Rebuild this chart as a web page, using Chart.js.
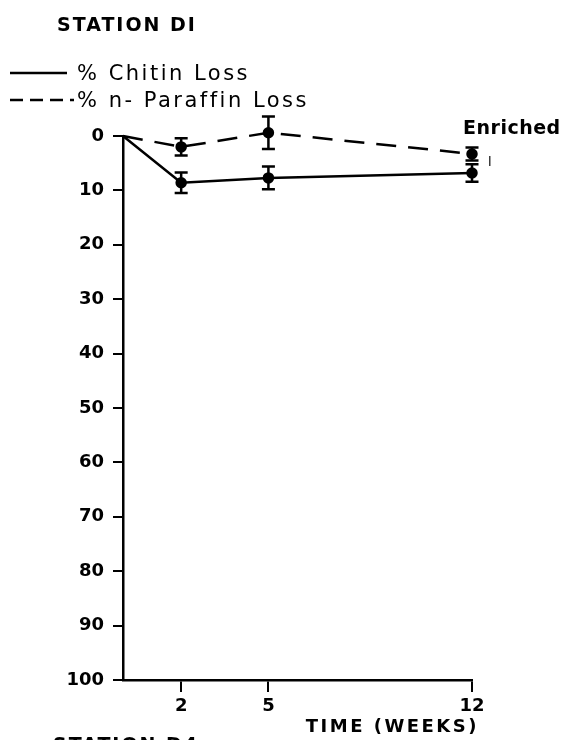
<!DOCTYPE html>
<html>
<head>
<meta charset="utf-8">
<script src="https://cdn.jsdelivr.net/npm/chart.js@4"></script>
<style>
  html, body { margin: 0; padding: 0; background: #fff; }
  #wrap { width: 573px; height: 740px; position: relative; }
</style>
</head>
<body>
<div id="wrap"><canvas id="lossChart"></canvas></div>
<script>
// sampling times (weeks) and mean % losses with +/- error
const weeks = [0, 2, 5, 12];
const xTickWeeks = [2, 5, 12];
const yTickValues = [0, 10, 20, 30, 40, 50, 60, 70, 80, 90, 100];

const chitinLoss = [0, 8.6, 7.7, 6.8];
const chitinErr = [0, 1.9, 2.1, 1.6];
const paraffinLoss = [0, 2.0, -0.6, 3.3];
const paraffinErr = [0, 1.6, 3.0, 1.2];

const FONT = "DejaVu Sans";
Chart.defaults.font.family = FONT;
Chart.defaults.color = "#000";

function toPoints(vals) {
  return weeks.map((w, i) => ({ x: w, y: vals[i] }));
}

// vertical error bars with caps
const errorBars = {
  id: "errorBars",
  afterDatasetsDraw(chart) {
    const { ctx } = chart;
    const x = chart.scales.x;
    const y = chart.scales.y;
    ctx.save();
    ctx.strokeStyle = "#000";
    ctx.lineWidth = 2.5;
    [[chitinLoss, chitinErr], [paraffinLoss, paraffinErr]].forEach(([vals, errs]) => {
      vals.forEach((v, i) => {
        if (!errs[i]) return;
        const px = x.getPixelForValue(weeks[i]);
        const top = y.getPixelForValue(v - errs[i]);
        const bot = y.getPixelForValue(v + errs[i]);
        ctx.beginPath();
        ctx.moveTo(px, top);
        ctx.lineTo(px, bot);
        ctx.moveTo(px - 6.5, top);
        ctx.lineTo(px + 6.5, top);
        ctx.moveTo(px - 6.5, bot);
        ctx.lineTo(px + 6.5, bot);
        ctx.stroke();
      });
    });
    ctx.restore();
  }
};

// station title, hand-drawn style key, notes and axis title
const labels = {
  id: "labels",
  afterDraw(chart) {
    const { ctx } = chart;
    const x = chart.scales.x;
    const y = chart.scales.y;
    ctx.save();
    ctx.fillStyle = "#000";
    ctx.strokeStyle = "#000";
    ctx.textBaseline = "alphabetic";

    ctx.font = "bold 19px " + FONT;
    ctx.letterSpacing = "2px";
    ctx.textAlign = "left";
    ctx.fillText("STATION DI", 57, 31);
    ctx.fillText("STATION D4", 53, 751);

    // key
    ctx.lineWidth = 2.5;
    ctx.beginPath();
    ctx.moveTo(10, 73);
    ctx.lineTo(67, 73);
    ctx.stroke();
    ctx.setLineDash([13, 7]);
    ctx.beginPath();
    ctx.moveTo(10, 100);
    ctx.lineTo(74, 100);
    ctx.stroke();
    ctx.setLineDash([]);

    ctx.font = "21px " + FONT;
    ctx.letterSpacing = "2.5px";
    ctx.fillText("% Chitin Loss", 77, 80);
    ctx.fillText("% n- Paraffin Loss", 77, 107);

    // treatment note at the last sample
    ctx.font = "bold 19px " + FONT;
    ctx.letterSpacing = "0.5px";
    ctx.fillText("Enriched", x.getPixelForValue(12) - 9, 134);
    ctx.font = "13px " + FONT;
    ctx.letterSpacing = "0px";
    ctx.fillText("l", x.getPixelForValue(12) + 16, y.getPixelForValue(5.6));

    // x axis title, right aligned to the end of the axis
    ctx.font = "bold 18px " + FONT;
    ctx.letterSpacing = "2.5px";
    ctx.textAlign = "right";
    ctx.fillText("TIME (WEEKS)", x.right + 7, 732);
    ctx.restore();
  }
};

new Chart(document.getElementById("lossChart"), {
  type: "scatter",
  data: {
    datasets: [
      {
        label: "% Chitin Loss",
        data: toPoints(chitinLoss),
        showLine: true,
        borderColor: "#000",
        backgroundColor: "#000",
        borderWidth: 2.5,
        pointRadius: [0, 4.5, 4.5, 4.5],
        clip: false
      },
      {
        label: "% n- Paraffin Loss",
        data: toPoints(paraffinLoss),
        showLine: true,
        borderColor: "#000",
        backgroundColor: "#000",
        borderWidth: 2.5,
        borderDash: [20, 12],
        pointRadius: [0, 4.5, 4.5, 4.5],
        clip: false
      }
    ]
  },
  options: {
    responsive: true,
    maintainAspectRatio: false,
    animation: false,
    layout: { padding: { left: 0, top: 136, right: 101, bottom: 0 } },
    plugins: {
      legend: { display: false },
      tooltip: { enabled: false }
    },
    scales: {
      x: {
        type: "linear",
        min: 0,
        max: 12,
        afterBuildTicks: (scale) => {
          scale.ticks = xTickWeeks.map((v) => ({ value: v }));
        },
        afterFit: (scale) => { scale.height = 60; },
        border: { display: true, color: "#000", width: 2.5 },
        grid: { drawOnChartArea: false, drawTicks: true, tickLength: 12, color: "#000", lineWidth: 2 },
        ticks: { font: { size: 18, weight: "bold" }, padding: 4, maxRotation: 0 }
      },
      y: {
        type: "linear",
        reverse: true,
        min: 0,
        max: 100,
        afterBuildTicks: (scale) => {
          scale.ticks = yTickValues.map((v) => ({ value: v }));
        },
        afterFit: (scale) => { scale.width = 123; },
        border: { display: true, color: "#000", width: 2.5 },
        grid: { drawOnChartArea: false, drawTicks: true, tickLength: 10, color: "#000", lineWidth: 2 },
        ticks: { font: { size: 18, weight: "bold" }, padding: 9 }
      }
    }
  },
  plugins: [errorBars, labels]
});
</script>
</body>
</html>
